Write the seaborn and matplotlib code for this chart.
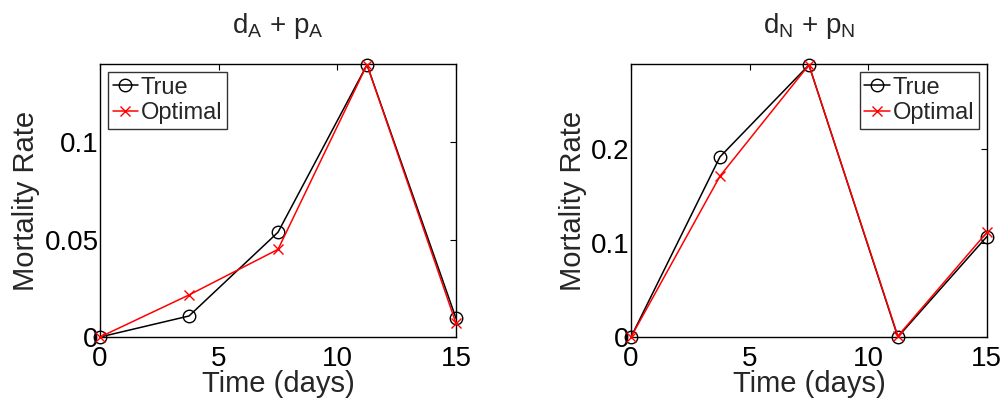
import numpy as np
import pandas as pd
import matplotlib
matplotlib.use('Agg')
import matplotlib.pyplot as plt
import seaborn as sns

# data
time_days = [0, 3.75, 7.5, 11.25, 15]

true_A = [0.0, 0.0108, 0.0538, 0.1398, 0.0096]
opt_A = [0.0, 0.0216, 0.0450, 0.1398, 0.0070]

true_N = [0.0, 0.192, 0.290, 0.0, 0.107]
opt_N = [0.0, 0.1715, 0.290, 0.001, 0.1115]

titles = [r'$d_A$ + $p_A$', r'$d_N$ + $p_N$']
xticks = [0, 5, 10, 15]
yticks_A = [0, 0.05, 0.1]
yticklabels_A = ['0', '0.05', '0.1']
yticks_N = [0, 0.1, 0.2]
yticklabels_N = ['0', '0.1', '0.2']

sns.set_style('white')
plt.rcParams['font.family'] = ['Liberation Sans', 'DejaVu Sans']
plt.rcParams['mathtext.default'] = 'regular'

fig = plt.figure(figsize=(10.08, 4.04), dpi=100)
ax1 = fig.add_axes([0.0992, 0.1658, 0.3532, 0.6758])
ax2 = fig.add_axes([0.626, 0.1658, 0.353, 0.6758])


def panel(ax, true_vals, opt_vals, title, yticks, yticklabels, ytop, legloc):
    df = pd.DataFrame({'time': time_days, 'true': true_vals, 'opt': opt_vals})
    sns.lineplot(data=df, x='time', y='true', ax=ax, color='black', marker='o',
                 mfc='none', mec='black', mew=1.0, markersize=9, lw=1.1,
                 label='True', clip_on=False, zorder=3)
    sns.lineplot(data=df, x='time', y='opt', ax=ax, color='red', marker='x',
                 mec='red', mew=1.0, markersize=7, lw=1.1,
                 label='Optimal', clip_on=False, zorder=4)
    ax.set_xlim(0, 15)
    ax.set_ylim(0, ytop)
    ax.set_xticks(xticks)
    ax.set_xticklabels([str(t) for t in xticks])
    ax.set_yticks(yticks)
    ax.set_yticklabels(yticklabels)
    ax.tick_params(direction='in', top=True, right=True, length=4, width=0.8,
                   labelsize=20, colors='black')
    ax.tick_params(axis='y', pad=1)
    ax.tick_params(axis='x', pad=6.5)
    for s in ax.spines.values():
        s.set_color('black')
        s.set_linewidth(1.0)
    ax.set_xlabel('Time (days)', fontsize=21, labelpad=-1.5)
    ax.set_ylabel('Mortality Rate', fontsize=21, labelpad=3)
    ax.set_title(title, fontsize=20, pad=22)
    leg = ax.legend(loc=legloc, fontsize=17, frameon=True, fancybox=False,
                    handlelength=1.1, handletextpad=0.1, borderpad=0.2,
                    labelspacing=0.15, borderaxespad=0.33)
    leg.get_frame().set_edgecolor('black')
    leg.get_frame().set_linewidth(1.0)


panel(ax1, true_A, opt_A, titles[0], yticks_A, yticklabels_A, 0.1402, 'upper left')
panel(ax2, true_N, opt_N, titles[1], yticks_N, yticklabels_N, 0.291, 'upper right')

fig.savefig('out.png', dpi=100)
